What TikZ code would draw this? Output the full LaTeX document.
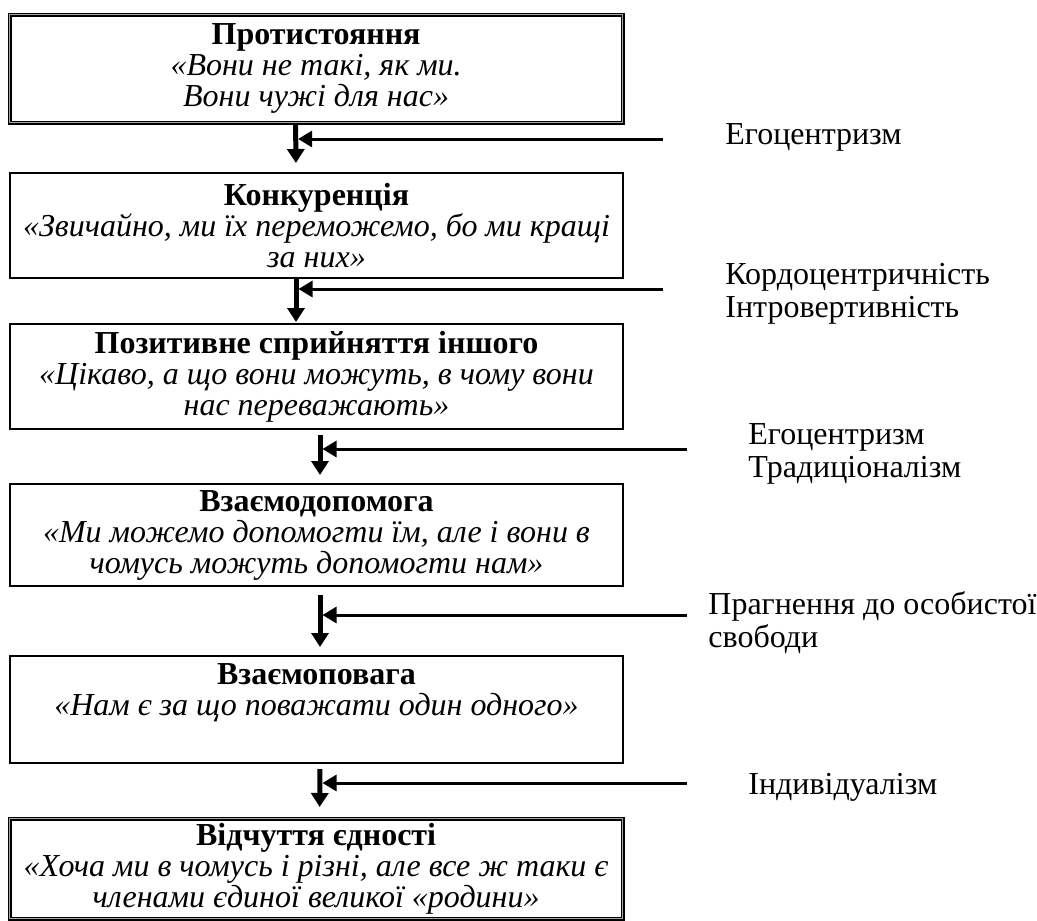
\documentclass[tikz,border=0pt]{standalone}
\usepackage{fontspec}
\setmainfont{Liberation Serif}
\usetikzlibrary{arrows.meta}
\begin{document}
\begin{tikzpicture}[x=0.5pt,y=-0.5pt,
  box/.style={draw=black,line width=1pt,anchor=north west,minimum width=306.5pt,
    align=center,inner sep=0pt,font=\fontsize{16}{15.5}\selectfont},
  dbox/.style={box,line width=0.6pt,double=gray!70,double distance=0.8pt},
  varrow/.style={line width=2.5pt,-{Triangle[length=7pt,width=8.5pt]}},
  harrow/.style={line width=1.5pt,-{Triangle[length=7pt,width=8pt]}},
  lbl/.style={anchor=west,align=left,inner sep=0pt,font=\fontsize{16}{16.5}\selectfont}]
\useasboundingbox (0,0) rectangle (1037,920);

\node[dbox,minimum height=54pt] (b1) at (9,14)
  {\textbf{Протистояння}\\\textit{«Вони не такі, як ми.}\\\textit{Вони чужі для нас»}};
\node[box,minimum height=52.5pt] (b2) at (9,172)
  {\textbf{Конкуренція}\\\textit{«Звичайно, ми їх переможемо, бо ми кращі}\\\textit{за них»}};
\node[box,minimum height=52.5pt] (b3) at (9,323)
  {\textbf{Позитивне сприйняття іншого}\\\textit{«Цікаво, а що вони можуть, в чому вони}\\\textit{нас переважають»}};
\node[box,minimum height=51pt] (b4) at (9,483)
  {\textbf{Взаємодопомога}\\\textit{«Ми можемо допомогти їм, але і вони в}\\\textit{чомусь можуть допомогти нам»}};
\node[box,minimum height=53.5pt] (b5) at (9,655)
  {\textbf{Взаємоповага}\\\textit{«Нам є за що поважати один одного»}\\\strut};
\node[dbox,minimum height=50pt] (b6) at (9,818)
  {\textbf{Відчуття єдності}\\\textit{«Хоча ми в чомусь і різні, але все ж таки є}\\\textit{членами єдиної великої «родини»}};

% vertical arrows
\draw[varrow,shorten >=4.5pt] ([xshift=-10.25pt]b1.south) coordinate (v1) -- ([xshift=-10.25pt]b2.north);
\draw[varrow,shorten >=0.5pt] ([xshift=-10.25pt]b2.south) coordinate (v2) -- ([xshift=-10.25pt]b3.north);
\draw[varrow,shorten <=2.5pt,shorten >=4pt] ([xshift=1.75pt]b3.south) coordinate (v3) -- ([xshift=1.75pt]b4.north);
\draw[varrow,shorten <=4pt,shorten >=4pt] ([xshift=1.75pt]b4.south) coordinate (v4) -- ([xshift=1.75pt]b5.north);
\draw[varrow,shorten <=2.5pt,shorten >=5.5pt] ([xshift=1.75pt]b5.south) coordinate (v5) -- ([xshift=1.75pt]b6.north);

% horizontal arrows
\coordinate (e1) at (663,139);
\coordinate (e2) at (663,289);
\coordinate (e3) at (687,449);
\coordinate (e4) at (687,615);
\coordinate (e5) at (687,783);
\draw[harrow,shorten >=1.25pt] (e1) -- (e1 -| v1);
\draw[harrow,shorten >=1.25pt] (e2) -- (e2 -| v2);
\draw[harrow,shorten >=1.25pt] (e3) -- (e3 -| v3);
\draw[harrow,shorten >=1.25pt] (e4) -- (e4 -| v4);
\draw[harrow,shorten >=1.25pt] (e5) -- (e5 -| v5);

% labels
\node[lbl] (l1) at (725,137) {Егоцентризм};
\node[lbl] (l2) at (725,293.5) {Кордоцентричність\\Інтровертивність};
\node[lbl] (l3) at (748,453.5) {Егоцентризм\\Традиціоналізм};
\node[lbl] (l4) at (708,622.5) {Прагнення до особистої\\свободи};
\node[lbl] (l5) at (748,787) {Індивідуалізм};
\end{tikzpicture}
\end{document}
